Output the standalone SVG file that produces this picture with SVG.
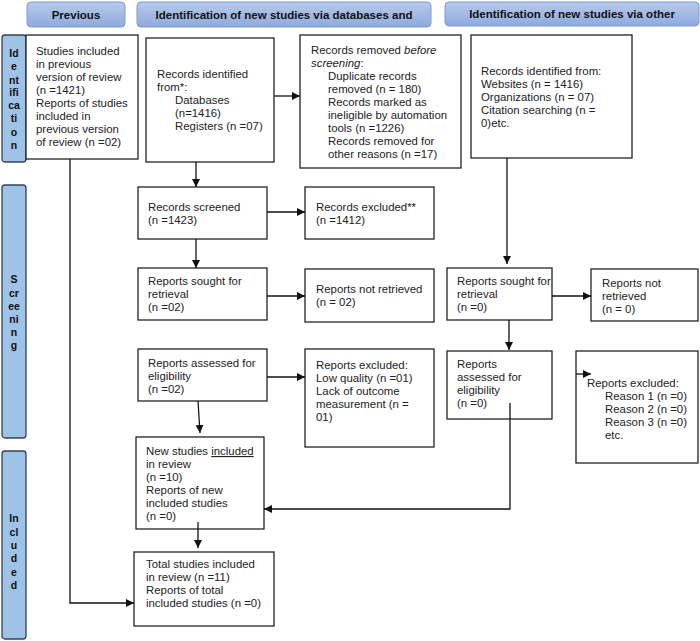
<svg xmlns="http://www.w3.org/2000/svg" width="700" height="641" viewBox="0 0 700 641">
<defs>
<linearGradient id="hg" x1="0" y1="0" x2="0" y2="1">
<stop offset="0" stop-color="#b9cbec"/>
<stop offset="1" stop-color="#8ea9dc"/>
</linearGradient>
<marker id="ah" viewBox="0 0 10 10" refX="10" refY="5" markerWidth="8" markerHeight="8" markerUnits="userSpaceOnUse" orient="auto">
<path d="M0,0 L10,5 L0,10 z" fill="#111"/>
</marker>
</defs>
<style>
.hdr{fill:url(#hg);stroke:#7d9bd0;stroke-width:1}
.bar{fill:#9fc3e7;stroke:#33415a;stroke-width:1.3}
.box{fill:#fff;stroke:#222;stroke-width:1.3}
.t{font-family:"Liberation Sans",Arial,sans-serif;font-size:11.4px;fill:#222}
.h{font-family:"Liberation Sans",Arial,sans-serif;font-size:11.5px;font-weight:bold;fill:#111;text-anchor:middle}
.s{font-family:"Liberation Sans",Arial,sans-serif;font-size:10.5px;font-weight:bold;fill:#111;text-anchor:middle}
.c{fill:none;stroke:#111;stroke-width:1.3}
</style>
<rect width="700" height="641" fill="#fff"/>

<g id="header-previous"><rect class="hdr" x="27" y="2" width="98" height="25" rx="4"/><text class="h" x="76" y="18.5">Previous</text></g>
<g id="header-databases"><rect class="hdr" x="137" y="2" width="294" height="25" rx="4"/><text class="h" x="284" y="18.5">Identification of new studies via databases and</text></g>
<g id="header-other"><rect class="hdr" x="445" y="2" width="254" height="24" rx="4"/><text class="h" x="572" y="17.5">Identification of new studies via other</text></g>

<g id="bar-identification"><rect class="bar" x="2" y="35" width="24" height="127" rx="3"/>
<text class="s"><tspan x="14" y="57">Id</tspan><tspan x="14" y="70">e</tspan><tspan x="14" y="84">nt</tspan><tspan x="14" y="96">ifi</tspan><tspan x="14" y="109">ca</tspan><tspan x="14" y="122">ti</tspan><tspan x="14" y="136">o</tspan><tspan x="14" y="149">n</tspan></text></g>
<g id="bar-screening"><rect class="bar" x="2" y="185" width="24" height="253" rx="3"/>
<text class="s"><tspan x="14" y="283">S</tspan><tspan x="14" y="297">cr</tspan><tspan x="14" y="310">ee</tspan><tspan x="14" y="323">ni</tspan><tspan x="14" y="336">n</tspan><tspan x="14" y="349">g</tspan></text></g>
<g id="bar-included"><rect class="bar" x="2" y="451" width="24" height="188" rx="3"/>
<text class="s"><tspan x="14" y="522">In</tspan><tspan x="14" y="536">cl</tspan><tspan x="14" y="549">u</tspan><tspan x="14" y="562">d</tspan><tspan x="14" y="576">e</tspan><tspan x="14" y="589">d</tspan></text></g>

<g id="previous-studies"><rect class="box" x="26" y="35" width="112" height="124"/>
<text class="t"><tspan x="36" y="55">Studies included</tspan><tspan x="36" y="68">in previous</tspan><tspan x="36" y="81">version of review</tspan><tspan x="36" y="94">(n =1421)</tspan><tspan x="36" y="107">Reports of studies</tspan><tspan x="36" y="120">included in</tspan><tspan x="36" y="133">previous version</tspan><tspan x="36" y="146">of review (n =02)</tspan></text></g>

<g id="records-identified"><rect class="box" x="146" y="38" width="128" height="124"/>
<text class="t"><tspan x="157" y="78">Records identified</tspan><tspan x="157" y="91">from*:</tspan><tspan x="175" y="104">Databases</tspan><tspan x="175" y="117">(n=1416)</tspan><tspan x="175" y="130">Registers (n =07)</tspan></text></g>

<g id="records-removed"><rect class="box" x="300" y="35" width="161" height="133"/>
<text class="t"><tspan x="311" y="54">Records removed <tspan font-style="italic">before</tspan></tspan><tspan x="311" y="67" font-style="italic">screening</tspan><tspan>:</tspan><tspan x="328" y="80">Duplicate records</tspan><tspan x="328" y="93">removed (n = 180)</tspan><tspan x="328" y="106">Records marked as</tspan><tspan x="328" y="119">ineligible by automation</tspan><tspan x="328" y="132">tools (n =1226)</tspan><tspan x="328" y="145">Records removed for</tspan><tspan x="328" y="158">other reasons (n =17)</tspan></text></g>

<g id="other-records-identified"><rect class="box" x="471" y="35" width="161" height="123"/>
<text class="t"><tspan x="481" y="75">Records identified from:</tspan><tspan x="481" y="88">Websites (n = 1416)</tspan><tspan x="481" y="101">Organizations (n = 07)</tspan><tspan x="481" y="114">Citation searching (n =</tspan><tspan x="481" y="127">0)etc.</tspan></text></g>

<g id="records-screened"><rect class="box" x="138" y="187" width="129" height="52"/>
<text class="t"><tspan x="148" y="211">Records screened</tspan><tspan x="148" y="224">(n =1423)</tspan></text></g>

<g id="records-excluded"><rect class="box" x="305" y="187" width="129" height="52"/>
<text class="t"><tspan x="316" y="211">Records excluded**</tspan><tspan x="316" y="224">(n =1412)</tspan></text></g>

<g id="reports-sought"><rect class="box" x="138" y="268" width="129" height="52"/>
<text class="t"><tspan x="148" y="285">Reports sought for</tspan><tspan x="148" y="298">retrieval</tspan><tspan x="148" y="311">(n =02)</tspan></text></g>

<g id="reports-not-retrieved"><rect class="box" x="305" y="269" width="129" height="53"/>
<text class="t"><tspan x="316" y="293">Reports not retrieved</tspan><tspan x="316" y="306">(n = 02)</tspan></text></g>

<g id="reports-assessed"><rect class="box" x="138" y="349" width="129" height="52"/>
<text class="t"><tspan x="148" y="367">Reports assessed for</tspan><tspan x="148" y="380">eligibility</tspan><tspan x="148" y="393">(n =02)</tspan></text></g>

<g id="reports-excluded"><rect class="box" x="305" y="349" width="129" height="98"/>
<text class="t"><tspan x="316" y="369">Reports excluded:</tspan><tspan x="316" y="382">Low quality (n =01)</tspan><tspan x="316" y="395">Lack of outcome</tspan><tspan x="316" y="408">measurement (n =</tspan><tspan x="316" y="421">01)</tspan></text></g>

<g id="new-studies-included"><rect class="box" x="136" y="437" width="128" height="92"/>
<text class="t"><tspan x="146" y="455">New studies <tspan text-decoration="underline">included</tspan></tspan><tspan x="146" y="468">in review</tspan><tspan x="146" y="481">(n =10)</tspan><tspan x="146" y="494">Reports of new</tspan><tspan x="146" y="507">included studies</tspan><tspan x="146" y="520">(n =0)</tspan></text></g>

<g id="total-studies"><rect class="box" x="134" y="552" width="140" height="74"/>
<text class="t"><tspan x="146" y="568">Total studies included</tspan><tspan x="146" y="581">in review (n =11)</tspan><tspan x="146" y="594">Reports of total</tspan><tspan x="146" y="607">included studies (n =0)</tspan></text></g>

<g id="other-reports-sought"><rect class="box" x="447" y="268" width="105" height="52"/>
<text class="t"><tspan x="457" y="285">Reports sought for</tspan><tspan x="457" y="298">retrieval</tspan><tspan x="457" y="311">(n =0)</tspan></text></g>

<g id="other-reports-not-retrieved"><rect class="box" x="591" y="269" width="107" height="52"/>
<text class="t"><tspan x="602" y="287">Reports not</tspan><tspan x="602" y="300">retrieved</tspan><tspan x="602" y="313">(n = 0)</tspan></text></g>

<g id="other-reports-assessed"><rect class="box" x="447" y="351" width="105" height="68"/>
<text class="t"><tspan x="457" y="368">Reports</tspan><tspan x="457" y="381">assessed for</tspan><tspan x="457" y="394">eligibility</tspan><tspan x="457" y="407">(n =0)</tspan></text></g>

<g id="other-reports-excluded"><rect class="box" x="576" y="351" width="122" height="112"/>
<text class="t"><tspan x="587" y="387">Reports excluded:</tspan><tspan x="605" y="400">Reason 1 (n =0)</tspan><tspan x="605" y="413">Reason 2 (n =0)</tspan><tspan x="605" y="426">Reason 3 (n =0)</tspan><tspan x="605" y="439">etc.</tspan></text></g>

<g id="connectors">
<line class="c" x1="274" y1="96" x2="300" y2="96" marker-end="url(#ah)"/>
<line class="c" x1="196" y1="162" x2="196" y2="187" marker-end="url(#ah)"/>
<line class="c" x1="267" y1="212" x2="305" y2="212" marker-end="url(#ah)"/>
<line class="c" x1="196" y1="239" x2="196" y2="268" marker-end="url(#ah)"/>
<line class="c" x1="267" y1="296" x2="305" y2="296" marker-end="url(#ah)"/>
<line class="c" x1="267" y1="377" x2="305" y2="377" marker-end="url(#ah)"/>
<line class="c" x1="198" y1="401" x2="200" y2="433" marker-end="url(#ah)"/>
<line class="c" x1="198" y1="522" x2="198" y2="548" marker-end="url(#ah)"/>
<polyline class="c" points="70,159 70,603 134,603" marker-end="url(#ah)"/>
<line class="c" x1="507" y1="158" x2="507" y2="264" marker-end="url(#ah)"/>
<line class="c" x1="552" y1="296" x2="591" y2="296" marker-end="url(#ah)"/>
<line class="c" x1="509" y1="320" x2="509" y2="350" marker-end="url(#ah)"/>
<polyline class="c" points="510,403 510,509 264,509" marker-end="url(#ah)"/>
<line class="c" x1="576" y1="374" x2="591" y2="374" marker-end="url(#ah)"/>
</g>
</svg>
